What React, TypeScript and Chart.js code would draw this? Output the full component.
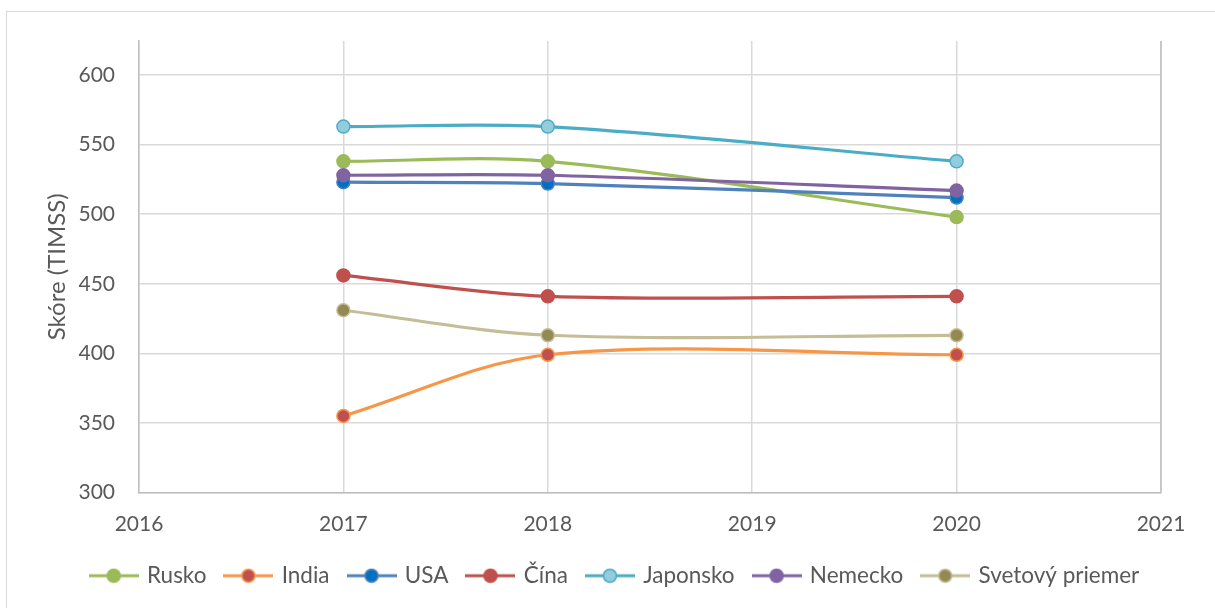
import React, { useEffect, useRef } from "react";
import { Chart, registerables } from "chart.js";

Chart.register(...registerables);

const years = [2017, 2018, 2020];
const seriesNames = ["Rusko", "India", "USA", "Čína", "Japonsko", "Nemecko", "Svetový priemer"];
const rusko = [538, 538, 498];
const india = [355, 399, 399];
const usa = [523, 522, 512];
const cina = [456, 441, 441];
const japonsko = [563, 563, 538];
const nemecko = [528, 528, 517];
const svetovy = [431, 413, 413];
const xTicks = [2016, 2017, 2018, 2019, 2020, 2021];
const yTicks = [300, 350, 400, 450, 500, 550, 600];

const lineColors = ["#9BBB59", "#F79646", "#4F81BD", "#C0504D", "#4BACC6", "#8064A2", "#C4BD97"];
const pointFills = ["#9BBB59", "#C0504D", "#0070C0", "#C0504D", "#93CDDD", "#8064A2", "#938953"];

const FONT = "Lato";
const TEXT = "#595959";

function legendIcon(line: string, fill: string): HTMLCanvasElement {
  const c = document.createElement("canvas");
  c.width = 50;
  c.height = 16;
  const ctx = c.getContext("2d")!;
  ctx.strokeStyle = line;
  ctx.lineWidth = 3;
  ctx.beginPath();
  ctx.moveTo(0, 8);
  ctx.lineTo(50, 8);
  ctx.stroke();
  ctx.beginPath();
  ctx.arc(25, 8, 6.5, 0, Math.PI * 2);
  ctx.fillStyle = fill;
  ctx.fill();
  ctx.lineWidth = 1.5;
  ctx.strokeStyle = line;
  ctx.stroke();
  return c;
}

export default function App() {
  const ref = useRef<HTMLCanvasElement | null>(null);
  useEffect(() => {
    let chart: Chart | null = null;
    let cancelled = false;
    const build = () => {
      if (cancelled || !ref.current) return;
      const all = [rusko, india, usa, cina, japonsko, nemecko, svetovy];
      const icons = seriesNames.map((_, i) => legendIcon(lineColors[i], pointFills[i]));
      chart = new Chart(ref.current, {
        type: "line",
        data: {
          datasets: all.map((vals, i) => ({
            label: seriesNames[i],
            data: vals.map((v, j) => ({ x: years[j], y: v })),
            borderColor: lineColors[i],
            backgroundColor: pointFills[i],
            pointBackgroundColor: pointFills[i],
            pointBorderColor: lineColors[i],
            pointBorderWidth: 1.5,
            pointRadius: 6.5,
            borderWidth: 3.2,
            tension: 0.33,
            fill: false,
            order: 10 - i,
          })),
        },
        options: {
          animation: false,
          responsive: false,
          layout: { padding: { left: 0, top: 41, right: 54, bottom: 11 } },
          plugins: {
            tooltip: { enabled: false },
            legend: {
              position: "bottom",
              labels: {
                usePointStyle: true,
                pointStyleWidth: 44,
                padding: 20,
                color: TEXT,
                font: { family: FONT, size: 22.5 },
                generateLabels: (ch: any) =>
                  ch.data.datasets.map((ds: any, i: number) => ({
                    text: ds.label,
                    fillStyle: pointFills[i],
                    strokeStyle: lineColors[i],
                    lineWidth: 0,
                    pointStyle: icons[i],
                    hidden: false,
                    datasetIndex: i,
                    fontColor: TEXT,
                  })),
              },
            },
          },
          scales: {
            x: {
              type: "linear",
              min: xTicks[0],
              max: xTicks[xTicks.length - 1],
              afterFit: (s: any) => {
                s.height = 52;
              },
              afterBuildTicks: (s: any) => {
                s.ticks = xTicks.map((v) => ({ value: v }));
              },
              ticks: {
                color: TEXT,
                font: { family: FONT, size: 21 },
                padding: 19,
                callback: (v: any) => String(v),
              },
              grid: { color: "#D9D9D9", lineWidth: 1.5, drawTicks: false },
              border: { color: "#BFBFBF", width: 1.5 },
            },
            y: {
              type: "linear",
              min: yTicks[0],
              max: 624.5,
              afterFit: (s: any) => {
                s.width = 139;
              },
              afterBuildTicks: (s: any) => {
                s.ticks = yTicks.map((v) => ({ value: v }));
              },
              ticks: {
                color: TEXT,
                font: { family: FONT, size: 21 },
                padding: 24,
                callback: (v: any) => String(v),
              },
              title: {
                display: true,
                text: "Skóre (TIMSS)",
                color: TEXT,
                font: { family: FONT, size: 24, weight: "normal" },
                padding: { top: 43, bottom: 0 },
              },
              grid: { color: "#D9D9D9", lineWidth: 1.5, drawTicks: false },
              border: { color: "#BFBFBF", width: 1.5 },
            },
          },
        },
        plugins: [
          {
            id: "legendShift",
            afterLayout: (ch: any) => {
              const lg = ch.legend;
              if (lg) {
                lg.left += 35;
                lg.right += 35;
              }
            },
          },
          {
            id: "rightEdge",
            afterDraw: (ch: any) => {
              const { ctx, chartArea } = ch;
              ctx.save();
              ctx.strokeStyle = "#BFBFBF";
              ctx.lineWidth = 1.5;
              ctx.beginPath();
              ctx.moveTo(chartArea.right, chartArea.top);
              ctx.lineTo(chartArea.right, chartArea.bottom);
              ctx.stroke();
              ctx.restore();
            },
          },
        ],
      } as any);
    };
    const p = (document as any).fonts ? (document as any).fonts.load(`18px ${FONT}`) : Promise.resolve();
    p.then(build, build);
    return () => {
      cancelled = true;
      if (chart) chart.destroy();
    };
  }, []);
  return (
    <div style={{ position: "absolute", left: 0, top: 0, width: 1215, height: 608, background: "#fff", overflow: "hidden" }}>
      <div
        style={{
          position: "absolute",
          left: 6,
          top: 11,
          width: 1300,
          height: 700,
          borderTop: "1px solid #D9D9D9",
          borderLeft: "1px solid #D9D9D9",
        }}
      />
      <canvas ref={ref} width={1215} height={608} style={{ position: "absolute", left: 0, top: 0 }} />
    </div>
  );
}
